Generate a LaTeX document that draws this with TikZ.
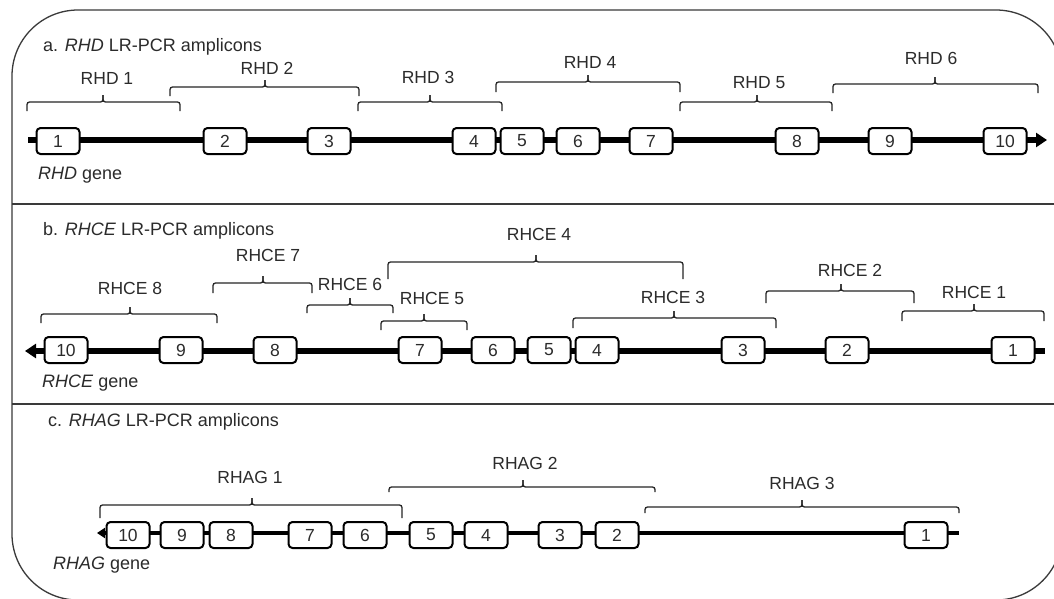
\documentclass[tikz,border=0pt]{standalone}
\usepackage{fontspec}
\setmainfont{Liberation Sans}
\usetikzlibrary{arrows.meta,positioning}
\definecolor{inkGray}{HTML}{2B2B2B}
\definecolor{frameGray}{HTML}{3A3A3A}
\newcommand{\ampl}[8]{%
  \draw[brk] (#1,#3+#4) |- (#5,#3) -- (#5,#3-7);
  \draw[brk] (#2,#3+#4) |- (#5,#3) -- (#5,#3-7);
  \node[lbl] (#6) at #7 {#8};}

\begin{document}
\begin{tikzpicture}[x=1pt,y=-1pt,
  exon/.style={draw=black,line width=2pt,fill=white,rounded corners=4pt,minimum width=43pt,minimum height=26pt,inner sep=0pt,font=\fontsize{17.5}{20}\selectfont,text=inkGray},
  gene/.style={line width=5.5pt,black},
  brk/.style={line width=1.3pt,black!85,rounded corners=2.5pt},
  lbl/.style={anchor=base,inner sep=0pt,font=\fontsize{17.5}{20}\selectfont,text=inkGray},
  ttl/.style={anchor=base west,inner sep=0pt,font=\fontsize{18}{21}\selectfont,text=inkGray}]
    \clip (0,0) rectangle (1054,598);
    \fill[white] (0,0) rectangle (1054,598);
    \draw[frameGray,line width=1.3pt,rounded corners=66pt] (12,10) rectangle (1062,600);
    \draw[frameGray,line width=1.5pt] (12,204) -- (1062,204);
    \draw[frameGray,line width=1.5pt] (12,404) -- (1062,404);

    \node[ttl] (ta) at (43,51) {a. \textit{RHD} LR-PCR amplicons};
    \coordinate (aL) at (28,140);
    \coordinate (aR) at (1047,140);
    \draw[gene,-{Triangle[length=11pt,width=14pt]}] (aL) -- (aR);
    \foreach \n/\x in {1/58,2/225,3/329,4/474,5/522,6/578,7/651,8/797,9/890,10/1005}
      \node[exon] (a\n) at (\x,141) {\n};
    \node[ttl] (ga) at (38,179) {\textit{RHD} gene};
    \ampl{27}{180}{102}{9}{103}{rhd1}{(107,84)}{RHD 1}
    \ampl{170}{359}{87}{9}{265}{rhd2}{(267,74)}{RHD 2}
    \ampl{358}{502}{102}{9}{430}{rhd3}{(428,83)}{RHD 3}
    \ampl{496}{680}{82}{10}{588}{rhd4}{(590,68)}{RHD 4}
    \ampl{680}{832}{102}{9}{757}{rhd5}{(759,88)}{RHD 5}
    \ampl{833}{1038}{84}{9}{935}{rhd6}{(931,64)}{RHD 6}

    \node[ttl] (tb) at (43,235) {b. \textit{RHCE} LR-PCR amplicons};
    \coordinate (bL) at (25,351);
    \coordinate (bR) at (1045,351);
    \draw[gene,{Triangle[length=11pt,width=14pt]}-] (bL) -- (bR);
    \foreach \n/\x in {10/66,9/181,8/275,7/420,6/493,5/549,4/597,3/743,2/847,1/1013}
      \node[exon] (b\n) at (\x,350) {\n};
    \node[ttl] (gb) at (42,387) {\textit{RHCE} gene};
    \ampl{41}{217}{314}{9}{130}{rhce8}{(130,294)}{RHCE 8}
    \ampl{213}{312}{283}{10}{263}{rhce7}{(268,261)}{RHCE 7}
    \ampl{307}{393}{305}{8}{350}{rhce6}{(350,290)}{RHCE 6}
    \ampl{381}{467}{321}{9}{424}{rhce5}{(432,304)}{RHCE 5}
    \ampl{388}{683}{262}{17}{536}{rhce4}{(539,240)}{RHCE 4}
    \ampl{573}{776}{318}{10}{674}{rhce3}{(673,303)}{RHCE 3}
    \ampl{766}{914}{291}{12}{841}{rhce2}{(850,276)}{RHCE 2}
    \ampl{902}{1044}{311}{10}{974}{rhce1}{(974,298)}{RHCE 1}

    \node[ttl] (tc) at (48,426) {c. \textit{RHAG} LR-PCR amplicons};
    \coordinate (cL) at (97,533);
    \coordinate (cR) at (959,533);
    \draw[gene,line width=4.5pt,{Triangle[length=8pt,width=10pt]}-] (cL) -- (cR);
    \foreach \n/\x in {10/128,9/182,8/231,7/310,6/365,5/431,4/486,3/560,2/617,1/926}
      \node[exon] (c\n) at (\x,535) {\n};
    \node[ttl] (gc) at (53,569) {\textit{RHAG} gene};
    \ampl{100}{402}{505}{13}{252}{rhag1}{(250,483)}{RHAG 1}
    \ampl{389}{655}{487}{5}{523}{rhag2}{(525,469)}{RHAG 2}
    \ampl{645}{959}{507}{6}{802}{rhag3}{(802,489)}{RHAG 3}
  \end{tikzpicture}
\end{document}
